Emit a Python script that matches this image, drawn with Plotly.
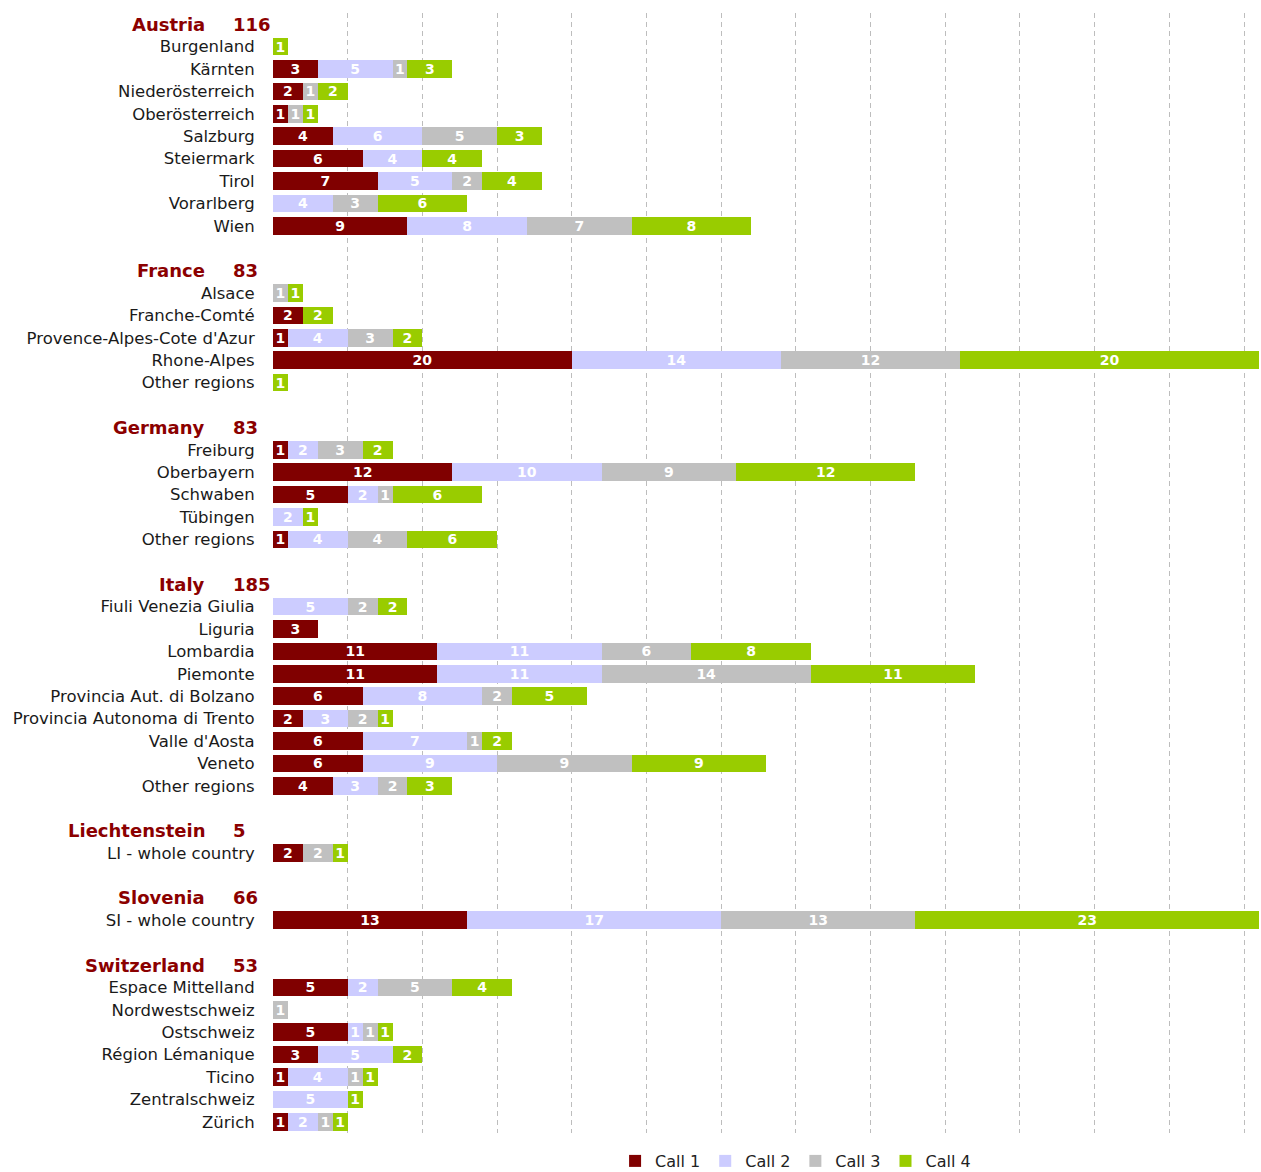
import plotly.graph_objects as go

countries = ["Austria", "France", "Germany", "Italy", "Liechtenstein", "Slovenia", "Switzerland"]

regions = [
    "Burgenland", "Kärnten", "Niederösterreich", "Oberösterreich", "Salzburg",
    "Steiermark", "Tirol", "Vorarlberg", "Wien",
    "Alsace", "Franche-Comté", "Provence-Alpes-Cote d'Azur", "Rhone-Alpes", "Other regions",
    "Freiburg", "Oberbayern", "Schwaben", "Tübingen", "Other regions",
    "Fiuli Venezia Giulia", "Liguria", "Lombardia", "Piemonte", "Provincia Aut. di Bolzano",
    "Provincia Autonoma di Trento", "Valle d'Aosta", "Veneto", "Other regions",
    "LI - whole country",
    "SI - whole country",
    "Espace Mittelland", "Nordwestschweiz", "Ostschweiz", "Région Lémanique", "Ticino",
    "Zentralschweiz", "Zürich",
]
region_country = (["Austria"] * 9 + ["France"] * 5 + ["Germany"] * 5 + ["Italy"] * 9
                  + ["Liechtenstein"] + ["Slovenia"] + ["Switzerland"] * 7)

call1 = [0, 3, 2, 1, 4, 6, 7, 0, 9,
         0, 2, 1, 20, 0,
         1, 12, 5, 0, 1,
         0, 3, 11, 11, 6, 2, 6, 6, 4,
         2,
         13,
         5, 0, 5, 3, 1, 0, 1]
call2 = [0, 5, 0, 0, 6, 4, 5, 4, 8,
         0, 0, 4, 14, 0,
         2, 10, 2, 2, 4,
         5, 0, 11, 11, 8, 3, 7, 9, 3,
         0,
         17,
         2, 0, 1, 5, 4, 5, 2]
call3 = [0, 1, 1, 1, 5, 0, 2, 3, 7,
         1, 0, 3, 12, 0,
         3, 9, 1, 0, 4,
         2, 0, 6, 14, 2, 2, 1, 9, 2,
         2,
         13,
         5, 1, 1, 0, 1, 0, 1]
call4 = [1, 3, 2, 1, 3, 4, 4, 6, 8,
         1, 2, 2, 20, 1,
         2, 12, 6, 1, 6,
         2, 0, 8, 11, 5, 1, 2, 9, 3,
         1,
         23,
         4, 0, 1, 2, 1, 1, 1]

series_names = ["Call 1", "Call 2", "Call 3", "Call 4"]
series_values = [call1, call2, call3, call4]
series_colors = ["#800000", "#CCCCFF", "#C0C0C0", "#99CC00"]

# layout rows: header row per country, its regions, blank row between countries
row = 0
header_rows = {}
y_pos = [None] * len(regions)
for i, c in enumerate(countries):
    if i > 0:
        row += 1
    header_rows[c] = row
    row += 1
    for j, rc in enumerate(region_country):
        if rc == c:
            y_pos[j] = row
            row += 1
n_rows = row

fig = go.Figure()
for name, vals, col in zip(series_names, series_values, series_colors):
    fig.add_trace(go.Bar(
        y=y_pos,
        x=[v if v else None for v in vals],
        orientation="h",
        name=name,
        marker=dict(color=col, line=dict(width=0)),
        text=[str(v) if v else "" for v in vals],
        textposition="inside",
        insidetextanchor="middle",
        textangle=0,
        constraintext="none",
        textfont=dict(color="white", size=14, family="DejaVu Sans", weight="bold"),
        hoverinfo="x+name",
    ))

annotations = []
for c in countries:
    total = sum(sum(vals[j] for j, rc in enumerate(region_country) if rc == c)
                for vals in series_values)
    annotations.append(dict(
        x=0, xref="paper", xshift=-66, y=header_rows[c], yref="y",
        text=c, showarrow=False, xanchor="right", yanchor="middle",
        font=dict(family="DejaVu Sans", size=18, color="#8B0000", weight="bold"),
    ))
    annotations.append(dict(
        x=0, xref="paper", xshift=-42, y=header_rows[c], yref="y",
        text=str(total), showarrow=False, xanchor="left", yanchor="middle",
        font=dict(family="DejaVu Sans", size=18, color="#8B0000", weight="bold"),
    ))

fig.update_layout(
    width=1261, height=1172,
    margin=dict(l=273, r=2, t=13, b=39, autoexpand=False),
    barmode="stack",
    bargap=0.22,
    plot_bgcolor="white",
    paper_bgcolor="white",
    showlegend=True,
    legend=dict(orientation="h", x=0.53, xanchor="center", y=-0.025, yanchor="middle",
                font=dict(family="DejaVu Sans", size=16, color="#222222"),
                traceorder="normal"),
    annotations=annotations,
    uniformtext=dict(minsize=13, mode="show"),
    xaxis=dict(range=[0, 66], tick0=0, dtick=5, showgrid=True, gridcolor="#BDBDBD",
               griddash="5px,4px", gridwidth=1, showticklabels=False, zeroline=False,
               showline=False, fixedrange=True),
    yaxis=dict(range=[n_rows - 0.5, -0.5], tickmode="array", tickvals=y_pos, ticktext=regions,
               showgrid=False, zeroline=False, showline=False, fixedrange=True,
               ticks="outside", ticklen=14, tickcolor="rgba(0,0,0,0)",
               tickfont=dict(family="DejaVu Sans", size=16.5, color="#1a1a1a")),
)

fig.write_html("out.html", config={"displayModeBar": False},
               post_script="document.body.style.margin='0px';document.body.style.overflow='hidden';")
